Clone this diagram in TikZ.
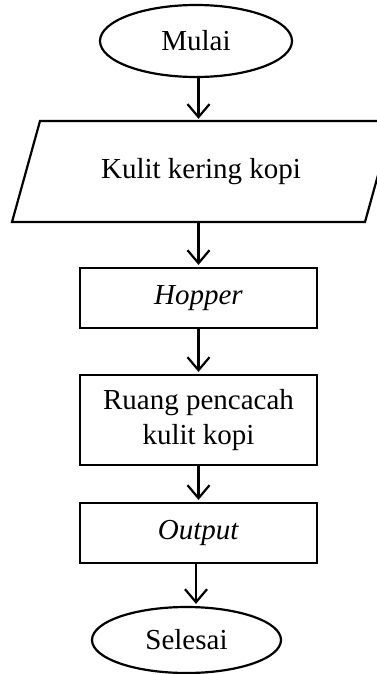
\documentclass[tikz,border=0pt]{standalone}
\usepackage{fontspec}
\setmainfont{Liberation Serif}
\usetikzlibrary{arrows.meta,shapes.geometric}
\begin{document}
\begin{tikzpicture}[x=1pt,y=-1pt,
  lw/.style={line width=2.2pt},
  txt/.style={font=\fontsize{29}{35}\selectfont},
  box/.style={txt, draw, lw, minimum width=237pt, minimum height=60pt, inner sep=0pt, align=center},
  term/.style={txt, draw, ellipse, lw, inner sep=0pt},
  arr/.style={lw, shorten >=2pt, -{Straight Barb[length=13pt,width=22pt,line width=2.2pt]}}]
\fill[white] (0,0) rectangle (377,674);
\useasboundingbox (0,0) rectangle (377,674);
\node[term, minimum width=192pt, minimum height=72pt] (mulai) at (196,41) {Mulai};
\coordinate (pTL) at (40,121);
\coordinate (pTR) at (393,121);
\coordinate (pBR) at (365,222);
\coordinate (pBL) at (12,222);
\draw[lw, line join=miter] (pTL) -- (pTR) -- (pBR) -- (pBL) -- cycle;
\node[txt, minimum height=101pt, inner sep=0pt] (para) at (201,171.5) {Kulit kering kopi};
\node[box] (hop) at (198.5,298) {\textit{Hopper}};
\node[box, minimum height=90pt] (ruang) at (198.5,420) {Ruang pencacah\\kulit kopi};
\node[box] (out) at (198.5,533) {\textit{Output}};
\node[term, minimum width=189pt, minimum height=66pt] (selesai) at (186.5,640) {Selesai};
\draw[arr] (hop.center |- mulai.south) -- (hop.center |- para.north);
\draw[arr] (hop.center |- para.south) -- (hop.north);
\draw[arr] (hop.south) -- (ruang.north);
\draw[arr] (ruang.south) -- (out.north);
\coordinate (o5) at ([xshift=-2.5pt]out.south);
\draw[arr] (o5) -- (o5 |- selesai.north);
\end{tikzpicture}
\end{document}
